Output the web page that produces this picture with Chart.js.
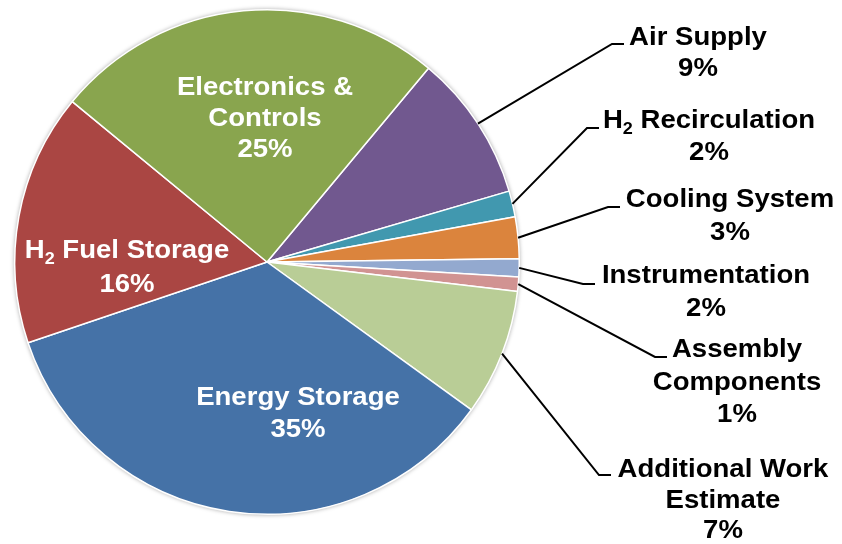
<!DOCTYPE html>
<html>
<head>
<meta charset="utf-8">
<script src="https://cdn.jsdelivr.net/npm/chart.js@4/dist/chart.umd.min.js"></script>
<style>
  html, body { margin: 0; padding: 0; background: #ffffff; }
  #wrap { width: 842px; height: 544px; }
</style>
</head>
<body>
<div id="wrap"><canvas id="c" width="842" height="544"></canvas></div>
<script>
// ---- data ----
const categories = ['Air Supply', 'H₂ Recirculation', 'Cooling System', 'Instrumentation',
  'Assembly Components', 'Additional Work Estimate', 'Energy Storage', 'H₂ Fuel Storage',
  'Electronics & Controls'];
const shares = [9.42, 1.67, 2.67, 1.14, 0.92, 8.11, 34.89, 16.17, 25.11];
const pctLabels = ['9%', '2%', '3%', '2%', '1%', '7%', '35%', '16%', '25%'];
const colors = ['#71588F', '#4198AF', '#DB843D', '#93A9CF', '#D19392', '#B9CD96',
  '#4572A7', '#AA4643', '#89A54E'];

// ---- label layout (positions / styles) ----
const labelLayout = [
  { lines: ['Air Supply'], x: 698, y: 45, lh: 31, color: '#000', elbow: [612, 44] },
  { lines: ['H₂ Recirculation'], x: 709, y: 128, lh: 32, color: '#000', elbow: [587, 128] },
  { lines: ['Cooling System'], x: 730, y: 207, lh: 33, color: '#000', elbow: [608, 207] },
  { lines: ['Instrumentation'], x: 706, y: 283, lh: 33, color: '#000', elbow: [583, 284] },
  { lines: ['Assembly', 'Components'], x: 737, y: 357, lh: 32.5, color: '#000', elbow: [655, 357] },
  { lines: ['Additional Work', 'Estimate'], x: 723, y: 477, lh: 30.5, color: '#000', elbow: [599, 475] },
  { lines: ['Energy Storage'], x: 298, y: 405, lh: 32, color: '#fff' },
  { lines: ['H₂ Fuel Storage'], x: 127, y: 258, lh: 33.5, color: '#fff' },
  { lines: ['Electronics &', 'Controls'], x: 265, y: 95, lh: 31, color: '#fff' }
];

const FONT_SIZE = 26;
const SUB_SIZE = 17;
const X_SCALE = 1.06;
const FAMILY = '"Liberation Sans", Arial, sans-serif';

function segments(text) {
  const segs = [];
  let cur = '';
  for (const ch of text) {
    if (ch === '₂') {
      if (cur) segs.push({ t: cur, sub: false });
      segs.push({ t: '2', sub: true });
      cur = '';
    } else cur += ch;
  }
  if (cur) segs.push({ t: cur, sub: false });
  return segs;
}

function drawRichLine(ctx, text, cx, y, color) {
  const segs = segments(text);
  let total = 0;
  for (const s of segs) {
    ctx.font = 'bold ' + (s.sub ? SUB_SIZE : FONT_SIZE) + 'px ' + FAMILY;
    s.w = ctx.measureText(s.t).width;
    total += s.w;
  }
  ctx.save();
  ctx.translate(cx, y);
  ctx.scale(X_SCALE, 1);
  let x = -total / 2;
  ctx.fillStyle = color;
  ctx.textBaseline = 'alphabetic';
  ctx.textAlign = 'left';
  for (const s of segs) {
    ctx.font = 'bold ' + (s.sub ? SUB_SIZE : FONT_SIZE) + 'px ' + FAMILY;
    ctx.fillText(s.t, x, s.sub ? 6 : 0);
    x += s.w;
  }
  ctx.restore();
}

const shadowPlugin = {
  id: 'pieShadow',
  beforeDatasetsDraw(chart) {
    const arc = chart.getDatasetMeta(0).data[0];
    if (!arc) return;
    const ctx = chart.ctx;
    ctx.save();
    ctx.shadowColor = 'rgba(0,0,0,0.35)';
    ctx.shadowBlur = 4;
    ctx.fillStyle = '#dddddd';
    ctx.beginPath();
    ctx.arc(arc.x, arc.y, arc.outerRadius + 0.5, 0, Math.PI * 2);
    ctx.fill();
    ctx.restore();
  }
};

const labelPlugin = {
  id: 'pieLabels',
  afterDatasetsDraw(chart) {
    const ctx = chart.ctx;
    const meta = chart.getDatasetMeta(0);
    meta.data.forEach((arc, i) => {
      const L = labelLayout[i];
      if (L.elbow) {
        const mid = (arc.startAngle + arc.endAngle) / 2;
        const ax = arc.x + Math.cos(mid) * arc.outerRadius;
        const ay = arc.y + Math.sin(mid) * arc.outerRadius;
        ctx.save();
        ctx.strokeStyle = '#000';
        ctx.lineWidth = 2;
        ctx.lineJoin = 'miter';
        ctx.beginPath();
        ctx.moveTo(ax, ay);
        ctx.lineTo(L.elbow[0], L.elbow[1]);
        ctx.lineTo(L.elbow[0] + 12, L.elbow[1]);
        ctx.stroke();
        ctx.restore();
      }
      const lines = L.lines.concat([pctLabels[i]]);
      lines.forEach((ln, k) => drawRichLine(ctx, ln, L.x, L.y + k * L.lh, L.color));
    });
  }
};

new Chart(document.getElementById('c'), {
  type: 'pie',
  data: {
    labels: categories,
    datasets: [{
      data: shares,
      backgroundColor: colors,
      borderColor: '#ffffff',
      borderWidth: 1.5
    }]
  },
  options: {
    responsive: false,
    animation: false,
    rotation: 39.8,
    layout: { padding: { left: 14, right: 322, top: 9, bottom: 29 } },
    plugins: { legend: { display: false }, tooltip: { enabled: false } }
  },
  plugins: [shadowPlugin, labelPlugin]
});
</script>
</body>
</html>
